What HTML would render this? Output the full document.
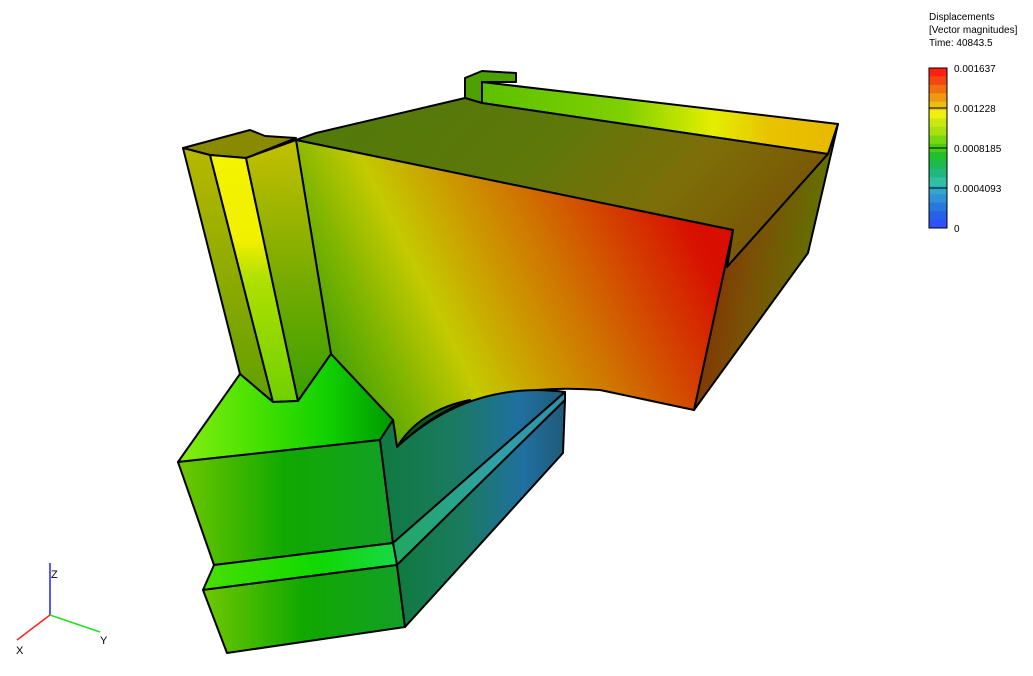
<!DOCTYPE html>
<html><head><meta charset="utf-8"><style>
body{margin:0;background:#fff;width:1033px;height:676px;overflow:hidden;font-family:"Liberation Sans",sans-serif}
svg{position:absolute;left:0;top:0}
</style></head><body>
<svg width="1033" height="676">
<defs>
<linearGradient id="gTop" x1="0" y1="0" x2="1" y2="0.3"><stop offset="0" stop-color="#4f7a0a"/><stop offset="0.5" stop-color="#5e780a"/><stop offset="0.8" stop-color="#7d6e08"/><stop offset="1" stop-color="#7a5a06"/></linearGradient>
<linearGradient id="gRail" x1="0" y1="0" x2="1" y2="0"><stop offset="0" stop-color="#5cc000"/><stop offset="0.4" stop-color="#80d000"/><stop offset="0.65" stop-color="#e4ee00"/><stop offset="0.8" stop-color="#e8c400"/><stop offset="1" stop-color="#e8b800"/></linearGradient>
<linearGradient id="gFace" x1="0" y1="0.6" x2="1" y2="0.25"><stop offset="0" stop-color="#3a9e08"/><stop offset="0.15" stop-color="#7cb400"/><stop offset="0.3" stop-color="#c4ca00"/><stop offset="0.45" stop-color="#cc9c00"/><stop offset="0.6" stop-color="#d07000"/><stop offset="0.75" stop-color="#d44000"/><stop offset="0.9" stop-color="#d81000"/><stop offset="1" stop-color="#d80c00"/></linearGradient>
<linearGradient id="gRight" x1="0" y1="0" x2="1" y2="0.3"><stop offset="0" stop-color="#8a1c00"/><stop offset="0.5" stop-color="#7a5006"/><stop offset="1" stop-color="#5e7800"/></linearGradient>
<linearGradient id="gColA" x1="0" y1="0" x2="0" y2="1"><stop offset="0" stop-color="#b8b800"/><stop offset="0.6" stop-color="#86a800"/><stop offset="1" stop-color="#60a000"/></linearGradient>
<linearGradient id="gColB" x1="0" y1="0" x2="0" y2="1"><stop offset="0" stop-color="#f4f400"/><stop offset="0.35" stop-color="#f0f000"/><stop offset="0.5" stop-color="#b0e000"/><stop offset="1" stop-color="#70d000"/></linearGradient>
<linearGradient id="gColC" x1="0" y1="0" x2="0" y2="1"><stop offset="0" stop-color="#c4c000"/><stop offset="0.5" stop-color="#7cac00"/><stop offset="1" stop-color="#38a000"/></linearGradient>
<linearGradient id="gBlkTop" x1="0" y1="0" x2="1" y2="0"><stop offset="0" stop-color="#88ee10"/><stop offset="0.4" stop-color="#40e000"/><stop offset="0.7" stop-color="#10d000"/><stop offset="1" stop-color="#009800"/></linearGradient>
<linearGradient id="gBlkFront" x1="0" y1="0" x2="1" y2="0"><stop offset="0" stop-color="#70c800"/><stop offset="0.5" stop-color="#10a800"/><stop offset="1" stop-color="#14a028"/></linearGradient>
<linearGradient id="gStrip" x1="0" y1="0" x2="1" y2="0"><stop offset="0" stop-color="#48e000"/><stop offset="0.6" stop-color="#10d800"/><stop offset="1" stop-color="#18d848"/></linearGradient>
<linearGradient id="gTeal" x1="0" y1="0" x2="1" y2="0"><stop offset="0" stop-color="#107a40"/><stop offset="0.4" stop-color="#1a7a60"/><stop offset="0.75" stop-color="#2070a0"/><stop offset="1" stop-color="#205a78"/></linearGradient>
<linearGradient id="gTealStrip" x1="0" y1="0" x2="1" y2="0"><stop offset="0" stop-color="#20a860"/><stop offset="0.6" stop-color="#30a0a8"/><stop offset="1" stop-color="#3090a8"/></linearGradient>
</defs>
<g stroke="#000" stroke-width="2" stroke-linejoin="round">
<polygon points="465,78 482,71 516,73 516,82 482,82 482,103 465,98" fill="#4ca000"/>
<polygon points="482,82 838,124 828,154 482,103" fill="url(#gRail)"/>
<polygon points="316,133 465,98 482,103 828,154 727,267 733,230 296,140" fill="url(#gTop)"/>
<polygon points="733,230 727,267 828,154 838,124 808,253 694,410" fill="url(#gRight)"/>
<path d="M296,140 L733,230 L694,410 L600,390 Q470,380 397,447 L393,420 L331,354 Z" fill="url(#gFace)"/>
<path d="M397,447 Q420,410 470,400 Q430,415 397,447 Z" fill="#0a5a20"/>
<polygon points="183,148 250,130 265,136 296,138 246,158 210,155" fill="#8a8a00"/>
<polygon points="183,148 210,155 273,402 240,374" fill="url(#gColA)"/>
<polygon points="210,155 246,158 298,401 273,402" fill="url(#gColB)"/>
<polygon points="246,158 296,140 331,354 298,401" fill="url(#gColC)"/>
<polygon points="178,462 240,374 273,402 298,401 331,354 393,420 380,440" fill="url(#gBlkTop)"/>
<polygon points="178,462 380,440 393,543 214,565" fill="url(#gBlkFront)"/>
<path d="M380,440 L393,420 L397,447 Q470,380 565,392 L393,543 Z" fill="url(#gTeal)"/>
<polygon points="393,543 565,392 565,400 397,565" fill="url(#gTealStrip)"/>
<polygon points="214,565 393,543 397,565 203,590" fill="url(#gStrip)"/>
<polygon points="203,590 397,565 405,627 227,653" fill="url(#gBlkFront)"/>
<polygon points="397,565 565,400 563,453 405,627" fill="url(#gTeal)"/>
</g>
<g stroke-width="1.5">
<line x1="50" y1="615" x2="50" y2="563" stroke="#2020ff"/>
<line x1="50" y1="615" x2="17" y2="640" stroke="#ff2020"/>
<line x1="50" y1="615" x2="100" y2="632" stroke="#20e020"/>
<text x="51" y="578" font-size="11">Z</text>
<text x="16" y="654" font-size="11">X</text>
<text x="100" y="644" font-size="11">Y</text>
</g>
<g font-size="10" fill="#000">
<text x="929" y="20">Displacements</text>
<text x="929" y="33">[Vector magnitudes]</text>
<text x="929" y="46">Time: 40843.5</text>
<g id="cbar"></g>
</g>
</svg>
<script>
const bandColors=["#ff2010","#f04810","#f07010","#f09810","#e8c010","#f0f010","#c8e810","#a8e010","#78d810","#48cc10","#20c030","#20b850","#20b880","#30c0a0","#30a8c8","#3090d8","#2878e0","#2860e8","#3050f8"];
const tickValues=[0.001637,0.001228,0.0008185,0.0004093,0];
const tickLabels=["0.001637","0.001228","0.0008185","0.0004093","0"];
const vmax=0.001637;
const g=document.getElementById('cbar');
const ns='http://www.w3.org/2000/svg';
const X0=929,W=18,Y0=68,H=160;
function yv(v){return Y0+H*(1-v/vmax);}
const n=bandColors.length;
bandColors.forEach((c,i)=>{
 const r=document.createElementNS(ns,'rect');
 
 
 r.setAttribute('x',X0);r.setAttribute('y',Y0+H*i/n);r.setAttribute('width',W);r.setAttribute('height',H/n+0.5);r.setAttribute('fill',c);g.appendChild(r);
});
const b=document.createElementNS(ns,'rect');


b.setAttribute('x',X0);b.setAttribute('y',Y0);b.setAttribute('width',W);b.setAttribute('height',H);b.setAttribute('fill','none');b.setAttribute('stroke','#000');g.appendChild(b);
tickValues.forEach((v,i)=>{
 const y=yv(v);
 if(i>0&&i<tickValues.length-1){const l=document.createElementNS(ns,'line');
 
 
 l.setAttribute('x1',X0);l.setAttribute('x2',X0+W);l.setAttribute('y1',y);l.setAttribute('y2',y);l.setAttribute('stroke','#000');g.appendChild(l);}
 const t=document.createElementNS(ns,'text');
 
 
 t.setAttribute('x',X0+W+7);t.setAttribute('y',y+4);t.textContent=tickLabels[i];g.appendChild(t);
});
</script>
</body></html>
